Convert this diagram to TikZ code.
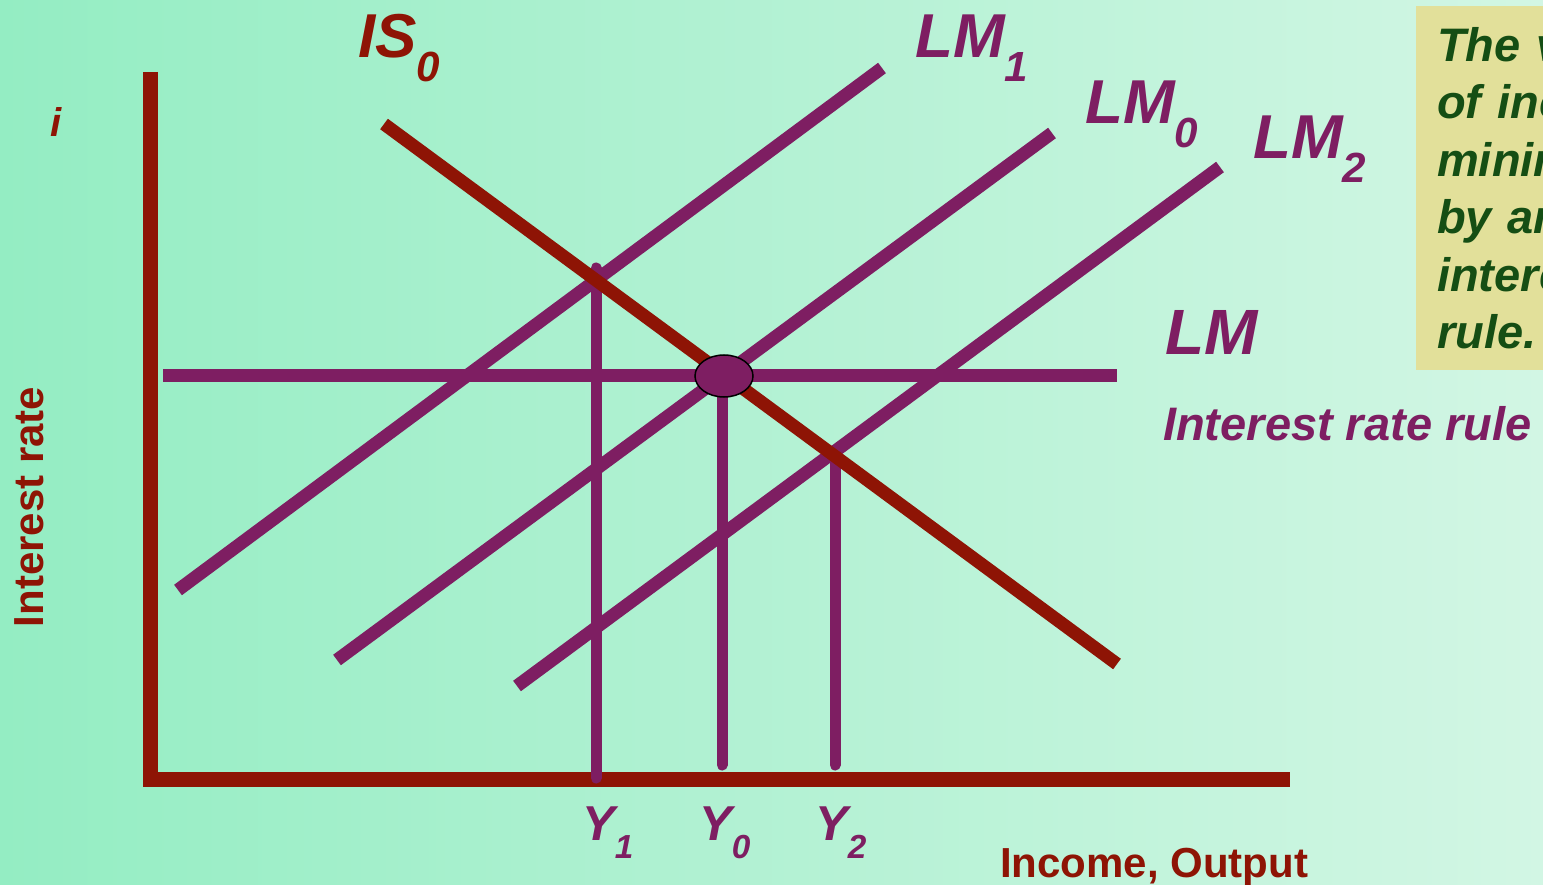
\documentclass[tikz,border=0pt]{standalone}
\usepackage{fontspec}
\setmainfont{Liberation Sans}
\usepackage{xcolor}
\usepackage{tikz}
\usetikzlibrary{shapes, positioning, calc}

\definecolor{bgleft}{RGB}{148,237,195}
\definecolor{bgright}{RGB}{210,246,228}
\definecolor{axisred}{RGB}{142,20,5}
\definecolor{lmpurple}{RGB}{126,30,98}
\definecolor{boxyellow}{RGB}{226,224,154}
\definecolor{textgreen}{RGB}{21,78,20}

\newcommand{\lsub}[1]{\raisebox{-0.38em}{\scalebox{0.68}{#1}}}

\begin{document}
\begin{tikzpicture}[x=1pt, y=-1pt,
        axis/.style={draw=axisred, line width=15pt},
        isline/.style={draw=axisred, line width=13pt},
        lmline/.style={draw=lmpurple, line width=13pt},
        drop/.style={draw=lmpurple, line width=11pt, line cap=round},
        curvelabel/.style={anchor=base west, inner sep=0pt, font=\fontsize{62}{62}\selectfont\bfseries\itshape},
        ylabel/.style={anchor=base west, inner sep=0pt, text=lmpurple, font=\fontsize{49}{49}\selectfont\bfseries\itshape}
    ]
    
    % Background
    \useasboundingbox (0,0) rectangle (1543,885);
    \clip (0,0) rectangle (1543,885);
    \shade[left color=bgleft, right color=bgright] (0,0) rectangle (1543,885);
    
    % Axes
    \coordinate (origin) at (150.5,779);
    \coordinate (ytop) at (150.5,72);
    \coordinate (xend) at (1290,779);
    \draw[axis] (ytop) -- (origin |- 0,786);
    \draw[axis] (143,779) -- (xend);
    
    % LM curves
    \coordinate (lm1a) at (178,590);
    \coordinate (lm1b) at (882,68);
    \coordinate (lm0a) at (337,660);
    \coordinate (lm0b) at (1052,133);
    \coordinate (lm2a) at (517,686);
    \coordinate (lm2b) at (1220,167);
    \coordinate (rulea) at (163,376);
    \coordinate (ruleb) at (1117,376);
    \draw[lmline] (lm1a) -- (lm1b);
    \draw[lmline] (lm0a) -- (lm0b);
    \draw[lmline] (lm2a) -- (lm2b);
    \draw[lmline] (rulea) -- (ruleb);
    
    % Output levels
    \coordinate (y1top) at (596,268);
    \coordinate (y1bot) at (596,778);
    \coordinate (y0top) at (722,380);
    \coordinate (y0bot) at (722,765);
    \coordinate (y2top) at (835,458);
    \coordinate (y2bot) at (835,765);
    \draw[drop] (y1top) -- (y1bot);
    \draw[drop] (y0top) -- (y0bot);
    \draw[drop] (y2top) -- (y2bot);
    
    % IS curve
    \coordinate (is0a) at (384,124);
    \coordinate (is0b) at (1117,664);
    \draw[isline] (is0a) -- (is0b);
    
    % Equilibrium
    \node[ellipse, draw=black, line width=1.5pt, fill=lmpurple, minimum width=58pt, minimum height=42pt, inner sep=0pt] (eq) at (724,376) {};
    
    % Curve labels
    \node[curvelabel, text=axisred] (islabel) at (358,58) {IS\lsub{0}};
    \node[curvelabel, text=lmpurple] (lm1label) at (915,58) {LM\lsub{1}};
    \node[curvelabel, text=lmpurple] (lm0label) at (1085,124) {LM\lsub{0}};
    \node[curvelabel, text=lmpurple] (lm2label) at (1253,159) {LM\lsub{2}};
    \node[anchor=base west, inner sep=0pt, text=lmpurple, font=\fontsize{64}{64}\selectfont\bfseries\itshape] (lmlabel) at (1165,355) {LM};
    \node[anchor=base west, inner sep=0pt, text=lmpurple, font=\fontsize{47}{47}\selectfont\bfseries\itshape] (rulelabel) at (1163,440) {Interest rate rule};
    
    % Axis labels
    \node[anchor=base west, inner sep=0pt, text=axisred, font=\fontsize{40}{40}\selectfont\bfseries\itshape] (ilabel) at (50,137) {i};
    \node[rotate=90, inner sep=0pt, text=axisred, font=\fontsize{42}{42}\selectfont\bfseries] (ratelabel) at (29,507) {Interest rate};
    \node[anchor=base west, inner sep=0pt, text=axisred, font=\fontsize{42}{42}\selectfont\bfseries] (incomelabel) at (1000,877) {Income, Output};
    \node[ylabel] (y1label) at (582,840) {Y\lsub{1}};
    \node[ylabel] (y0label) at (699,840) {Y\lsub{0}};
    \node[ylabel] (y2label) at (815,840) {Y\lsub{2}};
    
    % Note
    \node[anchor=north west, fill=boxyellow, text=textgreen, inner xsep=21pt, inner ysep=21pt, text width=320pt, align=left, font=\fontsize{47}{57.5}\selectfont\bfseries\itshape] (note) at (1416,6) {The variance\\of income is\\minimized\\by an\\interest rate\\rule.};
    
\end{tikzpicture}
\end{document}
